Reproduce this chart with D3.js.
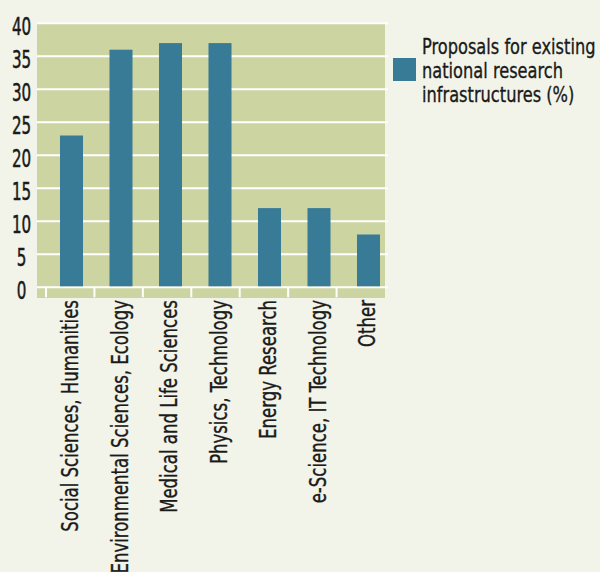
<!DOCTYPE html>
<html><head><meta charset="utf-8">
<script src="https://cdn.jsdelivr.net/npm/d3@7"></script>
<style>
html,body{margin:0;padding:0;background:#f3f4e9;}
svg{display:block;}
text{font-family:"DejaVu Sans Condensed","DejaVu Sans",sans-serif;fill:#1a1a1a;}
</style></head>
<body>
<script>
const categories = ["Social Sciences, Humanities","Environmental Sciences, Ecology","Medical and Life Sciences","Physics, Technology","Energy Research","e-Science, IT Technology","Other"];
const values = [23, 36, 37, 37, 12, 12, 8];
const yTicks = [0,5,10,15,20,25,30,35,40];
const legendLines = ["Proposals for existing","national research","infrastructures (%)"];

const W = 600, H = 572;
const FONT = '"DejaVu Sans Condensed","DejaVu Sans",sans-serif';
const svg = d3.select("body").append("svg").attr("width",W).attr("height",H);

const x = d3.scaleBand().domain(categories).range([46.75, 393.25]).paddingInner(0.535).paddingOuter(0.2675);
const y = d3.scaleLinear().domain([0,40]).range([287.3, 23.3]);
const tickX = d3.scaleLinear().domain([0,7]).range([46,385]);

// plot background
svg.append("rect").attr("x",37).attr("y",24).attr("width",348).attr("height",274).attr("fill","#ccd5a2");

// gridlines
svg.append("g").selectAll("line").data(yTicks).join("line")
  .attr("x1",37).attr("x2",388).attr("y1",d=>y(d)).attr("y2",d=>y(d))
  .attr("stroke","#fff").attr("stroke-width",2);

// bottom tick marks
svg.append("g").selectAll("line").data(d3.range(7)).join("line")
  .attr("x1",d=>tickX(d)).attr("x2",d=>tickX(d)).attr("y1",y(0)).attr("y2",y(0)+10)
  .attr("stroke","#fff").attr("stroke-width",2);

// bars
svg.append("g").selectAll("rect").data(values).join("rect")
  .attr("x",(d,i)=>x(categories[i])).attr("width",x.bandwidth())
  .attr("y",d=>y(d)).attr("height",d=>y(0)-y(d)-1)
  .attr("fill","#387b97");

// y labels
const yAxis = d3.axisLeft(y).tickValues(yTicks).tickSize(0).tickPadding(0);
const ga = svg.append("g").call(yAxis);
ga.select(".domain").remove();
ga.selectAll(".tick text")
  .style("font-size","24px").style("font-family",FONT).attr("fill","#1a1a1a")
  .attr("stroke","#1a1a1a").attr("stroke-width",0.5)
  .attr("text-anchor","middle").attr("x",0).attr("dy","0.46em")
  .attr("transform","translate(21.5,0) scale(0.7,1)");

// x labels
const xAxis = d3.axisBottom(x).tickSize(0).tickPadding(0);
const gx = svg.append("g").attr("transform","translate(-1.5,300)").call(xAxis);
gx.select(".domain").remove();
gx.selectAll(".tick text")
  .style("font-size","23px").style("font-family",FONT).attr("fill","#1a1a1a")
  .attr("stroke","#1a1a1a").attr("stroke-width",0.35)
  .attr("text-anchor","end").attr("x",0).attr("y",0).attr("dy","0.36em")
  .attr("transform","rotate(-90) scale(0.8,1)");

// legend
svg.append("rect").attr("x",393).attr("y",58).attr("width",23).attr("height",23).attr("fill","#387b97");
svg.append("g").selectAll("text").data(legendLines).join("text")
  .attr("x",0).attr("y",0)
  .attr("transform",(d,i)=>`translate(422,${53.5+i*24.4}) scale(0.82,1)`)
  .attr("stroke","#1a1a1a").attr("stroke-width",0.35)
  .style("font-size","22px").style("font-family",FONT).text(d=>d);
</script>
</body></html>
